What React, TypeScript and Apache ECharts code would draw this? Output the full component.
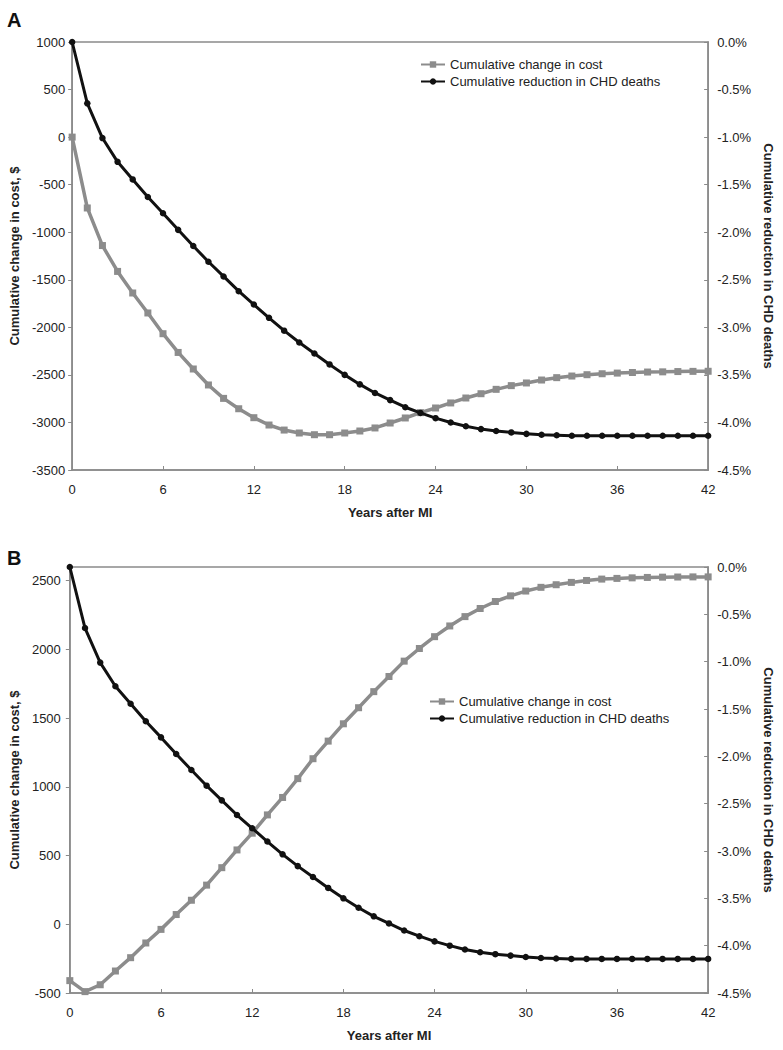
import React, { useEffect, useRef } from "react";
import * as echarts from "echarts";

const years = [0, 1, 2, 3, 4, 5, 6, 7, 8, 9, 10, 11, 12, 13, 14, 15, 16, 17, 18, 19, 20, 21, 22, 23, 24, 25, 26, 27, 28, 29, 30, 31, 32, 33, 34, 35, 36, 37, 38, 39, 40, 41, 42];

// Panel A: cumulative change in cost ($)
const costA = [0, -745, -1140, -1412, -1639, -1849, -2067, -2264, -2438, -2606, -2747, -2856, -2950, -3027, -3080, -3111, -3129, -3129, -3111, -3090, -3058, -3006, -2953, -2897, -2848, -2795, -2743, -2698, -2652, -2613, -2585, -2554, -2529, -2512, -2498, -2488, -2481, -2475, -2470, -2468, -2465, -2463, -2462];

// Panel B: cumulative change in cost ($)
const costB = [-410, -490, -440, -340, -243, -136, -37, 71, 175, 285, 412, 541, 663, 796, 923, 1060, 1205, 1333, 1459, 1576, 1693, 1803, 1915, 2007, 2093, 2171, 2239, 2298, 2349, 2390, 2425, 2452, 2471, 2488, 2502, 2512, 2517, 2521, 2524, 2526, 2527, 2528, 2528];

// Cumulative reduction in CHD deaths (%), panel A
const deathsA = [0, -0.645, -1.01, -1.26, -1.445, -1.63, -1.8, -1.975, -2.145, -2.31, -2.465, -2.62, -2.76, -2.9, -3.035, -3.16, -3.275, -3.39, -3.5, -3.6, -3.69, -3.765, -3.84, -3.9, -3.955, -4.0, -4.04, -4.07, -4.09, -4.105, -4.12, -4.13, -4.135, -4.14, -4.14, -4.14, -4.14, -4.14, -4.14, -4.14, -4.14, -4.14, -4.14];

// Cumulative reduction in CHD deaths (%), panel B
const deathsB = [0, -0.645, -1.01, -1.26, -1.445, -1.63, -1.8, -1.975, -2.145, -2.31, -2.465, -2.62, -2.76, -2.9, -3.035, -3.16, -3.275, -3.39, -3.5, -3.6, -3.69, -3.765, -3.84, -3.9, -3.955, -4.0, -4.04, -4.07, -4.09, -4.105, -4.12, -4.13, -4.135, -4.14, -4.14, -4.14, -4.14, -4.14, -4.14, -4.14, -4.14, -4.14, -4.14];

const SERIES_COST = "Cumulative change in cost";
const SERIES_DEATHS = "Cumulative reduction in CHD deaths";
const X_TITLE = "Years after MI";
const Y_LEFT_TITLE = "Cumulative change in cost, $";
const Y_RIGHT_TITLE = "Cumulative reduction in CHD deaths";

const FONT = "'Liberation Sans', Arial, Helvetica, sans-serif";
const AXIS_GRAY = "#8a8a8a";
const COST_GRAY = "#8c8c8c";
const DEATH_BLACK = "#111111";
const TEXT = "#222222";

function xAxisFor(gridIndex: number) {
  return {
    gridIndex,
    type: "value",
    min: 0,
    max: 42,
    interval: 6,
    name: X_TITLE,
    nameLocation: "middle",
    nameGap: 36,
    nameTextStyle: { fontFamily: FONT, fontWeight: "bold", fontSize: 13, color: TEXT },
    axisLine: { show: true, onZero: false, lineStyle: { color: AXIS_GRAY, width: 1.5 } },
    axisTick: { show: true, inside: true, length: 4, lineStyle: { color: AXIS_GRAY } },
    axisLabel: { fontFamily: FONT, fontSize: 13, color: TEXT, margin: 13, formatter: (v: number) => String(v) },
    splitLine: { show: false },
  };
}

function leftAxis(gridIndex: number, min: number, max: number, gap: number, margin: number) {
  return {
    gridIndex,
    type: "value",
    position: "left",
    min,
    max,
    interval: 500,
    name: Y_LEFT_TITLE,
    nameLocation: "middle",
    nameRotate: 90,
    nameGap: gap,
    nameTextStyle: { fontFamily: FONT, fontWeight: "bold", fontSize: 13, color: TEXT },
    axisLine: { show: true, onZero: false, lineStyle: { color: AXIS_GRAY, width: 1.5 } },
    axisTick: { show: true, inside: false, length: 4, lineStyle: { color: AXIS_GRAY } },
    axisLabel: {
      fontFamily: FONT,
      fontSize: 13,
      color: TEXT,
      margin,
      showMaxLabel: max % 500 === 0,
      formatter: (v: number) => String(v),
    },
    splitLine: { show: false },
  };
}

function rightAxis(gridIndex: number, gap: number) {
  return {
    gridIndex,
    type: "value",
    position: "right",
    min: -4.5,
    max: 0,
    interval: 0.5,
    name: Y_RIGHT_TITLE,
    nameLocation: "middle",
    nameRotate: -90,
    nameGap: gap,
    nameTextStyle: { fontFamily: FONT, fontWeight: "bold", fontSize: 13, color: TEXT },
    axisLine: { show: true, onZero: false, lineStyle: { color: AXIS_GRAY, width: 1.5 } },
    axisTick: { show: true, inside: true, length: 4, lineStyle: { color: AXIS_GRAY } },
    axisLabel: {
      fontFamily: FONT,
      fontSize: 13,
      color: TEXT,
      margin: 9,
      formatter: (v: number) => v.toFixed(1) + "%",
    },
    splitLine: { show: false },
  };
}

function costSeries(xi: number, yi: number, values: number[]) {
  return {
    name: SERIES_COST,
    type: "line",
    xAxisIndex: xi,
    yAxisIndex: yi,
    data: years.map((y, i) => [y, values[i]]),
    symbol: "rect",
    symbolSize: 7,
    lineStyle: { color: COST_GRAY, width: 3.5 },
    itemStyle: { color: COST_GRAY },
    z: 2,
  };
}

function deathSeries(xi: number, yi: number, values: number[]) {
  return {
    name: SERIES_DEATHS,
    type: "line",
    xAxisIndex: xi,
    yAxisIndex: yi,
    data: years.map((y, i) => [y, values[i]]),
    symbol: "circle",
    symbolSize: 6.5,
    lineStyle: { color: DEATH_BLACK, width: 3 },
    itemStyle: { color: DEATH_BLACK },
    z: 3,
  };
}

function legendAt(left: number, top: number) {
  return {
    orient: "vertical",
    left,
    top,
    padding: 0,
    itemWidth: 24,
    itemHeight: 8,
    itemGap: 4,
    selectedMode: false,
    data: [SERIES_COST, SERIES_DEATHS],
    textStyle: { fontFamily: FONT, fontSize: 13, color: TEXT },
  };
}

export default function App() {
  const ref = useRef<HTMLDivElement>(null);

  useEffect(() => {
    if (!ref.current) return;
    const chart = echarts.init(ref.current, undefined, { renderer: "svg" });
    const option: any = {
      animation: false,
      backgroundColor: "#ffffff",
      textStyle: { fontFamily: FONT },
      grid: [
        { left: 67, top: 42, width: 645, height: 428, show: true, borderColor: AXIS_GRAY, borderWidth: 1.5, containLabel: false },
        { left: 63, top: 567, width: 649, height: 426, show: true, borderColor: AXIS_GRAY, borderWidth: 1.5, containLabel: false },
      ],
      xAxis: [xAxisFor(0), xAxisFor(1)],
      yAxis: [
        leftAxis(0, -3500, 1000, 42, 7),
        rightAxis(0, 44),
        leftAxis(1, -500, 2600, 40, 9),
        rightAxis(1, 47),
      ],
      legend: [legendAt(420, 58), legendAt(429, 695)],
      graphic: [
        { type: "text", left: 7, top: 10, style: { text: "A", font: `bold 20px ${FONT}`, fill: "#111" } },
        { type: "text", left: 7, top: 548, style: { text: "B", font: `bold 20px ${FONT}`, fill: "#111" } },
      ],
      series: [
        costSeries(0, 0, costA),
        deathSeries(0, 1, deathsA),
        costSeries(1, 2, costB),
        deathSeries(1, 3, deathsB),
      ],
    };
    chart.setOption(option);
    return () => chart.dispose();
  }, []);

  return (
    <div
      ref={ref}
      style={{ position: "absolute", left: 0, top: 0, width: 783, height: 1050, background: "#fff" }}
    />
  );
}
